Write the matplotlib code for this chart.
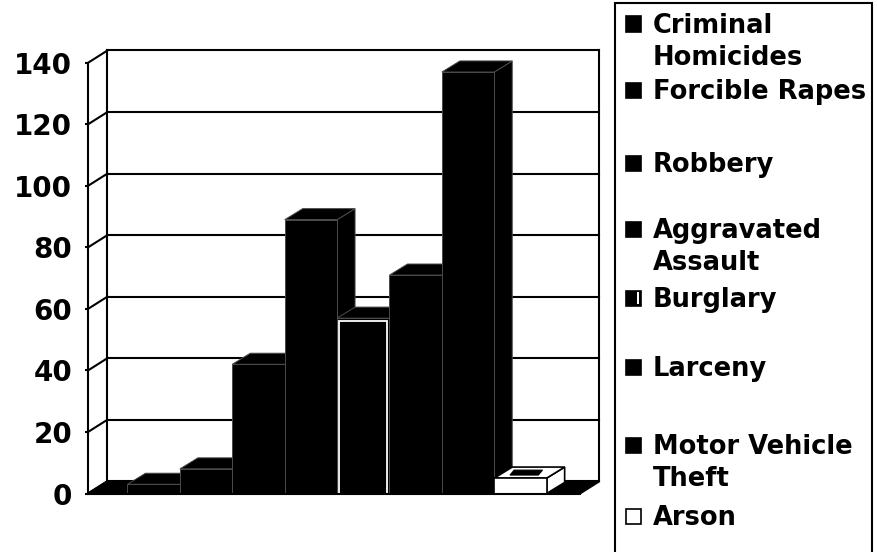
import matplotlib
matplotlib.use('Agg')
import matplotlib.pyplot as plt
from matplotlib.patches import Polygon, Rectangle

# data
crimes = ['Criminal\nHomicides', 'Forcible Rapes', 'Robbery', 'Aggravated\nAssault',
          'Burglary', 'Larceny', 'Motor Vehicle\nTheft', 'Arson']
counts = [3, 8, 42, 89, 57, 71, 137, 5]
face_colors = ['black', 'black', 'black', 'black', 'black', 'black', 'black', 'white']
yticks = [0, 20, 40, 60, 80, 100, 120, 140]

W, H = 877, 552
fig = plt.figure(figsize=(W / 100, H / 100), dpi=100)
fig.patch.set_facecolor('white')

# axes placed so that one category = ~52 px and 1 unit = ~3.08 px
ax = fig.add_axes([0.05576, 0.07808, 0.6572, 0.8639])
ax.set_xlim(-2.0, 9.0)
ax.set_ylim(-5, 150)
ax.patch.set_alpha(0)

# 3d geometry (data units)
xfl, xfr = -1.254, 8.136      # front floor left / right
dxw, dyw = 0.372, 4.0         # wall depth offset
dxb, dyb = 0.343, 3.6         # bar depth offset
lw = 1.5

# floor
ax.add_patch(Polygon([(xfl, 0), (xfr, 0), (xfr + dxw, dyw), (xfl + dxw, dyw)],
                     closed=True, facecolor='black', edgecolor='black', lw=lw, zorder=1))

# side wall diagonals and back wall gridlines
for v in yticks:
    ax.plot([xfl, xfl + dxw], [v, v + dyw], color='black', lw=lw, zorder=2)
    ax.plot([xfl + dxw, xfr + dxw], [v + dyw, v + dyw], color='black', lw=lw, zorder=2)
ax.plot([xfl + dxw, xfl + dxw], [dyw, 140 + dyw], color='black', lw=lw, zorder=2)
ax.plot([xfr + dxw, xfr + dxw], [dyw, 140 + dyw], color='black', lw=lw, zorder=2)

# bars drawn left to right, each one in front of the previous side face
for i, (v, fc) in enumerate(zip(counts, face_colors)):
    l, r = i - 0.5, i + 0.5
    ec = 'black' if fc == 'white' else '#4a4a4a'
    elw = 1.2 if fc == 'white' else 0.7
    z = 10 + i
    side = Polygon([(r, 0), (r + dxb, dyb), (r + dxb, v + dyb), (r, v)], closed=True,
                   facecolor=fc, edgecolor=ec, lw=elw, zorder=z)
    top = Polygon([(l, v), (l + dxb, v + dyb), (r + dxb, v + dyb), (r, v)], closed=True,
                  facecolor=fc, edgecolor=ec, lw=elw, zorder=z)
    front = Rectangle((l, 0), 1.0, v, facecolor=fc, edgecolor=ec, lw=elw, zorder=z + 0.5)
    for p in (side, top, front):
        ax.add_patch(p)
    if crimes[i] == 'Burglary':
        ax.add_patch(Rectangle((l + 0.04, 0), 0.92, v - 0.8, facecolor='none',
                               edgecolor='white', lw=1.3, zorder=z + 0.6))
    if fc == 'white':
        # dark inner patch seen on the top face
        ax.add_patch(Polygon([(l + 0.3, v + 1.0), (l + 0.38, v + 2.6),
                              (r - 0.08, v + 2.6), (r - 0.16, v + 1.0)], closed=True,
                             facecolor='black', edgecolor='black', lw=0.8, zorder=z + 0.6))

# front value axis
for s in ['top', 'right', 'bottom']:
    ax.spines[s].set_visible(False)
ax.spines['left'].set_position(('data', xfl))
ax.spines['left'].set_bounds(0, 140)
ax.spines['left'].set_linewidth(lw)
ax.spines['left'].set_zorder(30)
ax.set_xticks([])
ax.set_yticks(yticks)
ax.tick_params(axis='y', direction='out', length=2.5, width=lw, pad=9,
               labelsize=20)
for t in ax.get_yticklabels():
    t.set_fontweight('bold')
ax.plot([xfl, xfr], [0, 0], color='black', lw=lw, zorder=30, clip_on=False)


# legend drawn by hand (pixel positions from top-left)
def fx(x):
    return x / W


def fy(y):
    return 1 - y / H


legend_y = [24, 90, 163, 229, 298, 367, 445, 516]
fig.add_artist(Rectangle((fx(615), fy(600)), fx(872) - fx(615), fy(3) - fy(600),
                         transform=fig.transFigure, facecolor='white',
                         edgecolor='black', lw=lw))
for name, fc, yc in zip(crimes, face_colors, legend_y):
    fig.add_artist(Rectangle((fx(626), fy(yc + 7.5)), 15 / W, 15 / H,
                             transform=fig.transFigure, facecolor=fc,
                             edgecolor='black', lw=1.2))
    if name == 'Burglary':
        fig.add_artist(Rectangle((fx(637), fy(yc + 6)), 1.5 / W, 12 / H,
                                 transform=fig.transFigure, facecolor='white',
                                 edgecolor='none'))
    for k, line in enumerate(name.split('\n')):
        fig.text(fx(653), fy(yc + 9 + 32 * k), line, fontsize=18.5, fontweight='bold',
                 ha='left', va='baseline')

fig.savefig('out.png', dpi=100)
